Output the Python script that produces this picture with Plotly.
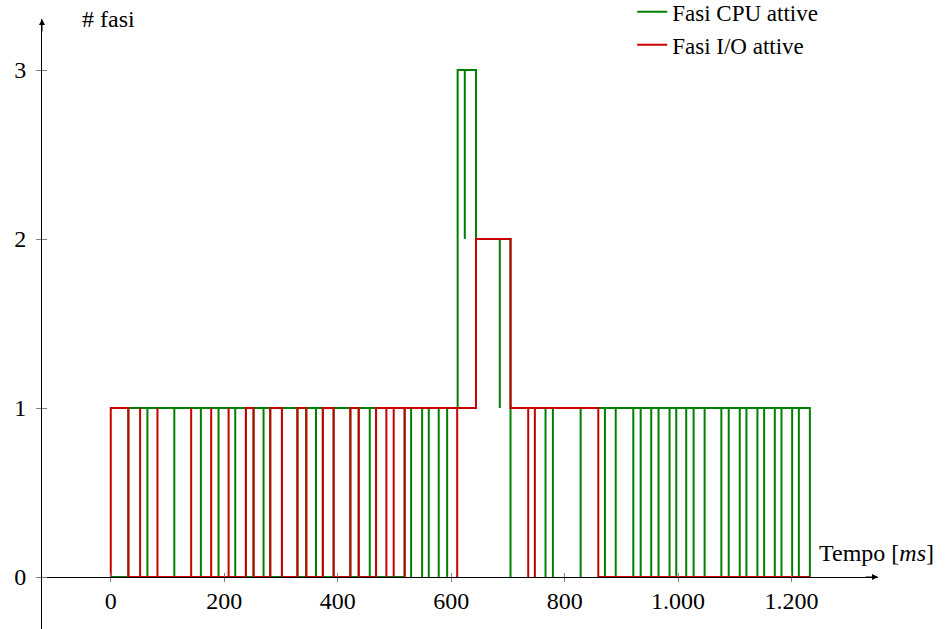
import plotly.graph_objects as go

# ---- data: active CPU / I/O phases over time (ms) ----
# level changes: time and number of active phases from that instant on
cpu_level_t = [0, 31.0, 238.2, 251.7, 281.1, 301.7, 329.0, 344.6, 373.8, 392.8,
               422.3, 437.0, 467.6, 518.0, 611.4, 643.7, 704.6, 1232.2]
cpu_level_n = [0, 1, 0, 1, 0, 1, 0, 1, 0, 1,
               0, 1, 0, 1, 3, 2, 1, 0]
# instants where a CPU phase ends and the next one starts right away
cpu_switch_t = [64.6, 112.0, 158.8, 190.0, 219.4, 269.3, 361.7, 456.5,
                529.4, 548.8, 560.5, 578.0, 592.9, 624.0, 685.7, 704.6,
                766.3, 779.3, 828.2, 871.0, 890.0, 921.0, 934.0, 952.6,
                965.5, 984.9, 996.7, 1014.3, 1027.3, 1046.7, 1076.2, 1089.2,
                1108.6, 1120.4, 1139.8, 1151.6, 1170.4, 1182.2, 1201.0, 1212.8]

io_level_t = [0, 31.0, 238.2, 251.7, 281.1, 301.7, 329.0, 344.6, 373.8, 392.8,
              422.3, 437.0, 467.6, 643.7, 704.6, 859.3, 1232.2]
io_level_n = [1, 0, 1, 0, 1, 0, 1, 0, 1, 0,
              1, 0, 1, 2, 1, 0, 0]
io_switch_t = [485.8, 498.7, 518.0, 610.6, 735.8, 747.5]
# zero-length I/O phases
io_blip_t = [51.7, 82.3, 141.7, 177.0, 207.7]

x_ticks = [0, 200, 400, 600, 800, 1000, 1200]
x_tick_text = ["0", "200", "400", "600", "800", "1.000", "1.200"]
y_ticks = [0, 1, 2, 3]

series_names = ["Fasi CPU attive", "Fasi I/O attive"]
series_colors = ["rgb(0,128,0)", "rgb(200,0,0)"]


def step_path(level_t, level_n, switch_t=(), blip_t=()):
    """Vertices of the step curve (drawn with shape 'hv')."""
    events = [(t, 0, n) for t, n in zip(level_t, level_n)]
    events += [(t, 1, -1) for t in switch_t]
    events += [(t, 2, 1) for t in blip_t]
    events.sort(key=lambda e: (e[0], e[1]))
    xs, ys = [events[0][0]], [0]
    level = 0
    for t, kind, v in events:
        if kind == 0:
            level = v
            xs.append(t)
            ys.append(level)
        else:
            xs += [t, t]
            ys += [level + v, level]
    return xs, ys


FONT = "Liberation Serif, Times New Roman, serif"
X_RANGE = [-121.2, 1352.3]
Y_RANGE = [-0.3077, 3.302]
zero_pos = (0 - Y_RANGE[0]) / (Y_RANGE[1] - Y_RANGE[0])

fig = go.Figure()
paths = [step_path(cpu_level_t, cpu_level_n, cpu_switch_t),
         step_path(io_level_t, io_level_n, io_switch_t, io_blip_t)]
for (xs, ys), name, color in zip(paths, series_names, series_colors):
    fig.add_trace(go.Scatter(
        x=xs, y=ys, mode="lines", name=name,
        line=dict(color=color, width=2, shape="hv"),
    ))

tick_font = dict(family=FONT, size=24, color="black")
fig.update_layout(
    width=950, height=629,
    margin=dict(l=42, r=72, t=19, b=0, autoexpand=False),
    paper_bgcolor="white", plot_bgcolor="white",
    showlegend=True,
    legend=dict(x=0.706, y=1.047, xanchor="left", yanchor="top",
                font=dict(family=FONT, size=23, color="black"),
                bgcolor="rgba(0,0,0,0)", tracegroupgap=0),
    # main axes: labels + tick halves pointing into the plot
    xaxis=dict(range=X_RANGE, anchor="free", position=zero_pos,
               showgrid=False, zeroline=False,
               showline=True, linecolor="black", linewidth=1,
               tickvals=x_ticks, ticktext=x_tick_text,
               ticks="inside", ticklen=4, tickcolor="gray", tickwidth=1,
               ticklabelstandoff=2, tickfont=tick_font),
    yaxis=dict(range=Y_RANGE, anchor="x", showgrid=False, zeroline=False,
               showline=True, linecolor="black", linewidth=1,
               tickvals=y_ticks, ticks="outside", ticklen=5,
               tickcolor="gray", tickwidth=1,
               ticklabelstandoff=5, tickfont=tick_font),
    # overlay axes: the other tick halves, no labels
    xaxis2=dict(range=X_RANGE, anchor="free", position=zero_pos,
                overlaying="x", showgrid=False, zeroline=False,
                showline=False, tickvals=x_ticks, showticklabels=False,
                ticks="outside", ticklen=4, tickcolor="gray", tickwidth=1),
    yaxis2=dict(range=Y_RANGE, anchor="x", overlaying="y", side="left",
                showgrid=False, zeroline=False, showline=False,
                tickvals=y_ticks, showticklabels=False,
                ticks="inside", ticklen=5, tickcolor="gray", tickwidth=1),
)

# invisible trace carrying the overlay tick marks
fig.add_trace(go.Scatter(x=[None], y=[None], xaxis="x2", yaxis="y2",
                         showlegend=False, hoverinfo="skip"))

# axis arrow tips and axis titles
fig.add_annotation(x=X_RANGE[1], y=0, xref="x", yref="y", ax=-14, ay=0,
                   showarrow=True, arrowhead=2, arrowsize=1.2, arrowwidth=1,
                   arrowcolor="black", text="")
fig.add_annotation(x=X_RANGE[0], y=Y_RANGE[1], xref="x", yref="y", ax=0, ay=14,
                   showarrow=True, arrowhead=2, arrowsize=1.2, arrowwidth=1,
                   arrowcolor="black", text="")
fig.add_annotation(x=-54, y=Y_RANGE[1], xref="x", yref="y",
                   xanchor="left", yanchor="middle", showarrow=False,
                   text="# fasi", font=dict(family=FONT, size=24, color="black"))
fig.add_annotation(x=1245, y=0.142, xref="x", yref="y",
                   xanchor="left", yanchor="middle", showarrow=False,
                   text="Tempo [<i>ms</i>]",
                   font=dict(family=FONT, size=24, color="black"))

fig.write_html("out.html")
